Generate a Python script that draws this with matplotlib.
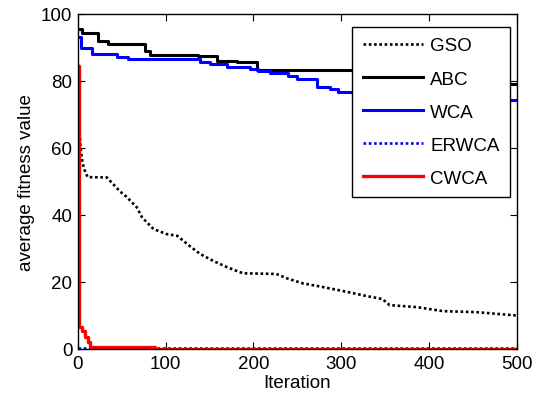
import matplotlib
matplotlib.use("Agg")
import matplotlib.pyplot as plt

plt.rcParams['font.family'] = ['Liberation Sans', 'DejaVu Sans']

# GSO: average fitness per iteration (dotted curve)
gso_iter = [0, 1, 2, 3, 5, 7, 11, 33, 38, 48, 55, 67, 73, 86, 101, 113, 127, 139,
            154, 170, 188, 226, 238, 256, 273, 302, 329, 347, 355, 386, 416, 454, 495, 500]
gso_val = [85, 70, 64, 60, 56, 53.7, 51.3, 51.2, 49.8, 47, 45.5, 42.3, 39.3, 35.8, 34.3,
           33.8, 30.8, 28.4, 26.3, 24.4, 22.6, 22.4, 21.1, 19.6, 18.8, 17.3, 15.8, 14.9,
           13.1, 12.5, 11.3, 11.0, 10.1, 10.0]

# ABC: step changes of the best average fitness
abc_iter = [0, 5, 23, 34, 76, 82, 137, 158, 181, 204, 470, 500]
abc_val = [95.5, 94.2, 92.0, 91.0, 89.0, 87.8, 87.4, 86.0, 85.6, 83.2, 79.1, 79.1]

# WCA
wca_iter = [0, 4, 16, 45, 57, 139, 150, 170, 196, 205, 219, 239, 249, 272, 287, 296,
            330, 420, 470, 500]
wca_val = [93.0, 89.7, 88.0, 87.2, 86.6, 85.8, 85.0, 84.2, 83.6, 83.1, 82.4, 81.6, 80.6,
           78.3, 77.6, 76.8, 76.4, 75.2, 74.4, 74.4]

# ERWCA
erwca_iter = [0, 500]
erwca_val = [0.4, 0.4]

# CWCA
cwca_iter = [0, 1, 5, 8, 11, 14, 88, 500]
cwca_val = [84.6, 6.5, 5.4, 3.5, 2.0, 0.6, 0.0, 0.0]

x_ticks = [0, 100, 200, 300, 400, 500]
y_ticks = [0, 20, 40, 60, 80, 100]

fig = plt.figure(figsize=(5.4, 4.14), dpi=100)
ax = fig.add_axes([0.1444, 0.1546, 0.8126, 0.8092])

ax.plot(gso_iter, gso_val, color='black', linestyle=(0, (1, 1)), lw=1.9, label='GSO')
ax.plot(abc_iter, abc_val, color='black', lw=2.2, drawstyle='steps-post', label='ABC')
ax.plot(wca_iter, wca_val, color='#0000ff', lw=2.2, drawstyle='steps-post', label='WCA')
ax.plot(erwca_iter, erwca_val, color='#0000ff', linestyle=(0, (1, 1)), lw=1.9, label='ERWCA')
ax.plot(cwca_iter, cwca_val, color='#ff0000', lw=2.4, drawstyle='steps-post', label='CWCA')

ax.set_xlim(0, 500)
ax.set_ylim(0, 100)
ax.set_xticks(x_ticks)
ax.set_yticks(y_ticks)
ax.tick_params(direction='in', top=True, right=True, length=5, width=0.8,
               labelsize=13.5, pad=4)
for s in ax.spines.values():
    s.set_linewidth(1.0)
    s.set_color('black')

ax.set_xlabel('Iteration', fontsize=13.5, labelpad=2)
ax.set_ylabel('average fitness value', fontsize=13.5, labelpad=4)

leg = ax.legend(loc='upper right', bbox_to_anchor=(0.984, 0.961), borderaxespad=0,
                fontsize=13.5, frameon=True, fancybox=False, edgecolor='black',
                framealpha=1, handlelength=3.2, handletextpad=0.4, labelspacing=0.85,
                borderpad=0.55)
leg.get_frame().set_linewidth(1.0)

fig.savefig('out.png', dpi=100)
